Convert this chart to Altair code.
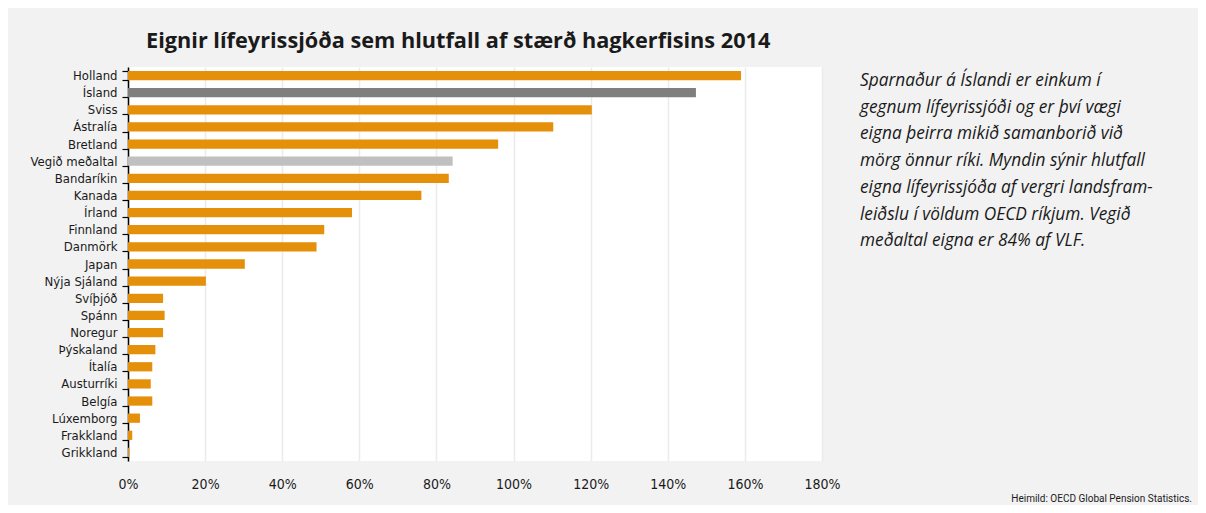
import altair as alt
import pandas as pd

lond = ["Holland", "Ísland", "Sviss", "Ástralía", "Bretland", "Vegið meðaltal",
        "Bandaríkin", "Kanada", "Írland", "Finnland", "Danmörk", "Japan",
        "Nýja Sjáland", "Svíþjóð", "Spánn", "Noregur", "Þýskaland", "Ítalía",
        "Austurríki", "Belgía", "Lúxemborg", "Frakkland", "Grikkland"]
hlutfall = [159.0, 147.3, 120.3, 110.3, 96.0, 84.2, 83.2, 76.1, 58.1, 50.9, 48.9,
            30.3, 20.2, 9.1, 9.5, 9.1, 7.1, 6.3, 5.9, 6.3, 3.1, 1.1, 0.3]
flokkur = ["Land", "Ísland", "Land", "Land", "Land", "Meðaltal"] + ["Land"] * 17
x_ticks = [0, 20, 40, 60, 80, 100, 120, 140, 160, 180]

titill = "Eignir lífeyrissjóða sem hlutfall af stærð hagkerfisins 2014"
skyring = ["Sparnaður á Íslandi er einkum í",
           "gegnum lífeyrissjóði og er því vægi",
           "eigna þeirra mikið samanborið við",
           "mörg önnur ríki. Myndin sýnir hlutfall",
           "eigna lífeyrissjóða af vergri landsfram-",
           "leiðslu í völdum OECD ríkjum. Vegið",
           "meðaltal eigna er 84% af VLF."]
heimild = "Heimild: OECD Global Pension Statistics."

df = pd.DataFrame({"land": lond, "hlutfall": hlutfall, "flokkur": flokkur})
one = pd.DataFrame({"k": [0]})

COND = "DejaVu Sans Condensed"

bars = alt.Chart(df).mark_bar().encode(
    y=alt.Y("land:N", sort=lond,
            scale=alt.Scale(paddingInner=0.46, paddingOuter=0.23),
            axis=alt.Axis(title=None, domain=True, domainColor="#000000", domainWidth=1.5,
                          ticks=True, tickColor="#000000", tickSize=6, tickWidth=1.2,
                          tickBand="extent", labelPadding=5, labelFont=COND,
                          labelFontSize=13, labelColor="#1a1a1a", grid=False)),
    x=alt.X("hlutfall:Q", scale=alt.Scale(domain=[0, 180], nice=False),
            axis=alt.Axis(title=None, values=x_ticks, domain=False, ticks=False,
                          labelFlush=False,
                          labelExpr="datum.value + '%'", labelFont=COND,
                          labelFontSize=14, labelColor="#1a1a1a", labelPadding=16,
                          grid=True, gridColor="#ebebeb", gridWidth=1.5)),
    color=alt.Color("flokkur:N",
                    scale=alt.Scale(domain=["Land", "Ísland", "Meðaltal"],
                                    range=["#e5900a", "#7f7f7f", "#c0c0c0"]),
                    legend=None),
)

note = alt.Chart(one).mark_text(
    align="left", baseline="alphabetic", font="Open Sans", fontStyle="italic",
    fontWeight="normal", fontSize=17.3, lineHeight=26.7, color="#1a1a1a"
).encode(x=alt.value(732), y=alt.value(19), text=alt.value(skyring))

source = alt.Chart(one).mark_text(
    align="right", baseline="alphabetic", font="Roboto", fontWeight="normal",
    fontSize=10, color="#1a1a1a"
).encode(x=alt.value(1064), y=alt.value(435), text=alt.value(heimild))

chart = alt.layer(bars, note, source).properties(
    width=694, height=394,
    padding={"left": 120, "top": 59, "right": 376, "bottom": 44},
    autosize=alt.AutoSizeParams(type="none"),
    background="#f2f2f2",
    title=alt.TitleParams(titill, anchor="start", frame="group", dx=18, offset=8,
                          font="Open Sans", fontSize=21.7, fontWeight="bold", color="#1a1a1a"),
).configure_view(fill="white", stroke=None)

chart.save("out.html", embed_options={"renderer": "svg", "actions": False})
